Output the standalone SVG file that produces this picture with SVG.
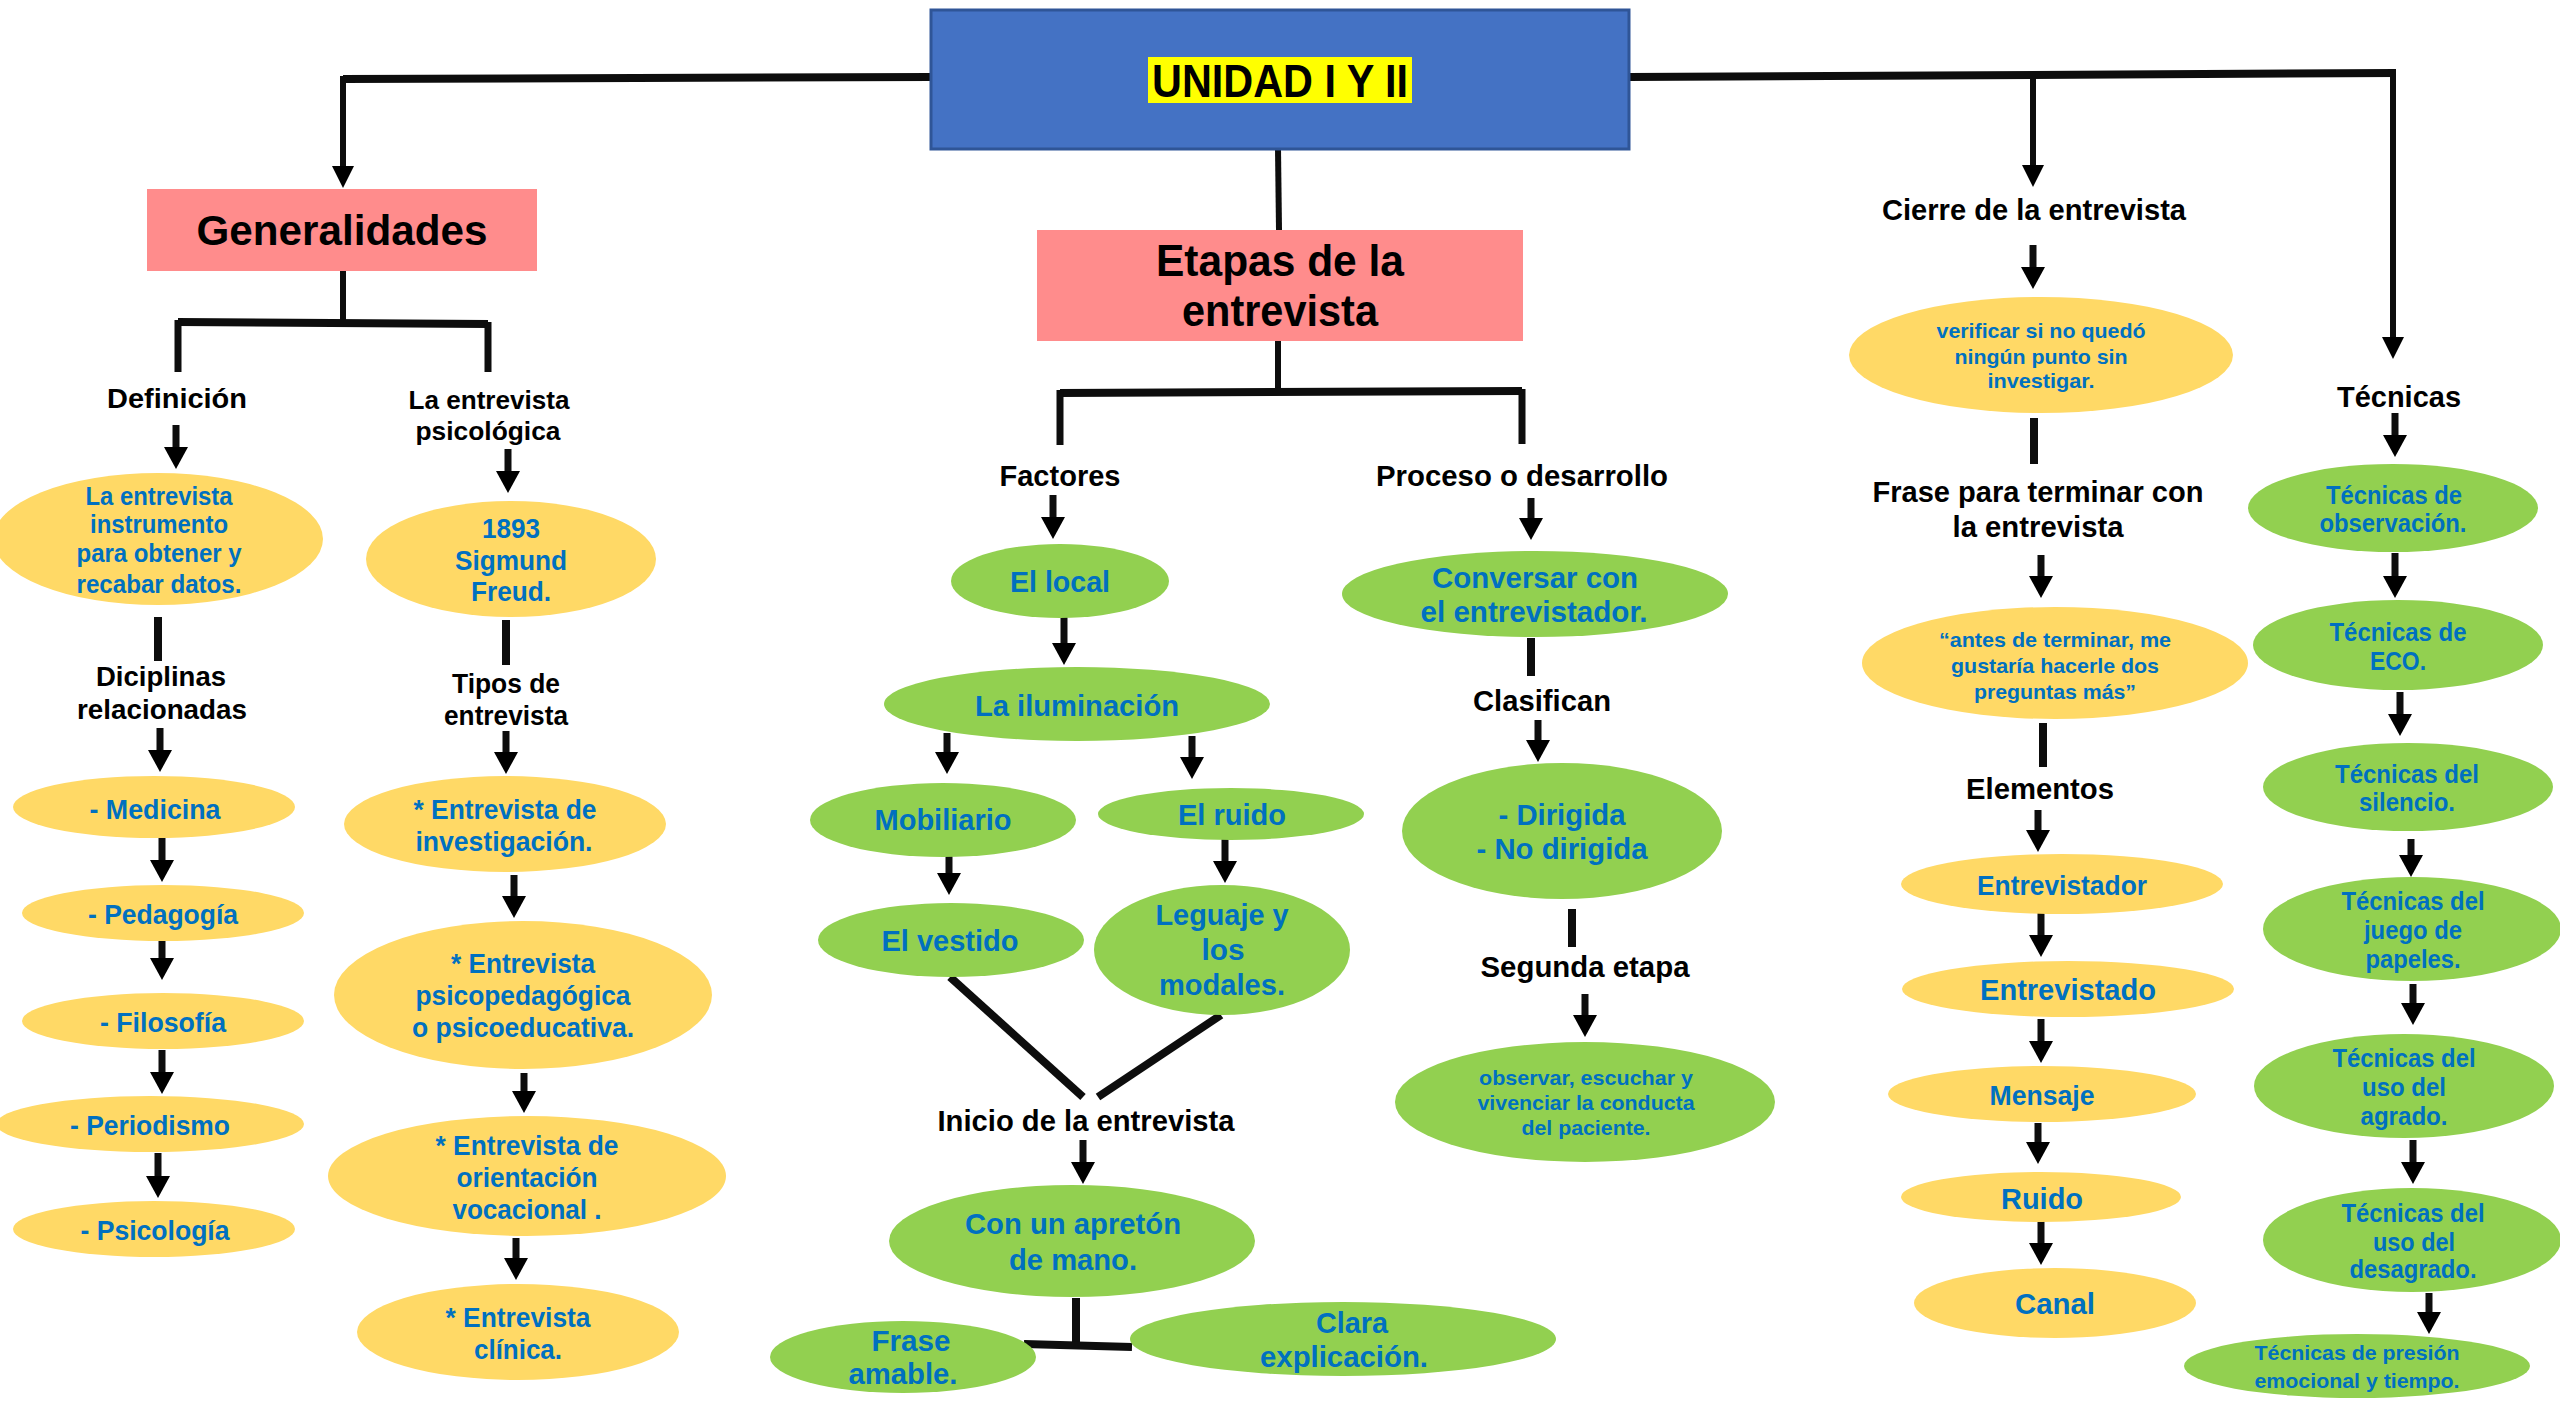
<svg xmlns="http://www.w3.org/2000/svg" width="2560" height="1403" viewBox="0 0 2560 1403">
<style>
text{font-family:"Liberation Sans",Arial,sans-serif;font-weight:700;text-anchor:middle}
.bt{fill:#0070C0}
.kt{fill:#000}
.y{fill:#FFD966}
.g{fill:#92D050}
.pk{fill:#FF8C8C}
.cn{stroke:#0d0d0d;stroke-width:7;fill:none}
.th{stroke-width:8}
.tn{stroke-width:6}
.ar{marker-end:url(#ah)}
.al{marker-end:url(#ahl)}
</style>
<defs>
<marker id="ah" markerUnits="userSpaceOnUse" viewBox="0 0 22 24" markerWidth="22" markerHeight="24" refX="6" refY="12" orient="auto"><path d="M0,0 L22,12 L0,24 z" fill="#000"/></marker>
<marker id="ahl" markerUnits="userSpaceOnUse" viewBox="0 0 22 22" markerWidth="22" markerHeight="22" refX="0" refY="11" orient="auto"><path d="M0,0 L22,11 L0,22 z" fill="#000"/></marker>
</defs>
<rect width="2560" height="1403" fill="#fff"/>

<g id="connectors">
<path class="cn th" d="M931,77 L343,79"/>
<path class="cn tn al" d="M343,76 L343,166"/>
<path class="cn th" d="M1629,77 L2396,73"/>
<path class="cn tn al" d="M2393,74 L2393,337"/>
<path class="cn tn al" d="M2033,76 L2033,165"/>
<path class="cn tn" d="M1278,149 L1279,230"/>
<path class="cn tn" d="M343,271 L343,322"/>
<path class="cn th" d="M178,322 L488,324"/>
<path class="cn" d="M178,320 L178,372"/>
<path class="cn" d="M488,322 L488,372"/>
<path class="cn ar" d="M176,425 L176,453"/>
<path class="cn ar" d="M508,449 L508,477"/>
<path class="cn th" d="M158,617 L158,661"/>
<path class="cn ar" d="M160,728 L160,756"/>
<path class="cn ar" d="M162,838 L162,866"/>
<path class="cn ar" d="M162,934 L162,964"/>
<path class="cn ar" d="M162,1050 L162,1078"/>
<path class="cn ar" d="M158,1153 L158,1182"/>
<path class="cn th" d="M506,620 L506,665"/>
<path class="cn ar" d="M506,731 L506,758"/>
<path class="cn ar" d="M514,875 L514,902"/>
<path class="cn ar" d="M524,1073 L524,1097"/>
<path class="cn ar" d="M516,1238 L516,1264"/>
<path class="cn tn" d="M1278,341 L1278,392"/>
<path class="cn th" d="M1060,393 L1522,391"/>
<path class="cn" d="M1060,390 L1060,445"/>
<path class="cn" d="M1522,389 L1522,444"/>
<path class="cn ar" d="M1053,495 L1053,523"/>
<path class="cn ar" d="M1064,617 L1064,649"/>
<path class="cn ar" d="M947,733 L947,758"/>
<path class="cn ar" d="M1192,736 L1192,763"/>
<path class="cn ar" d="M949,849 L949,879"/>
<path class="cn ar" d="M1225,838 L1225,867"/>
<path class="cn th" d="M950,977 L1083,1097"/>
<path class="cn th" d="M1221,1015 L1098,1097"/>
<path class="cn ar" d="M1083,1140 L1083,1168"/>
<path class="cn th" d="M1076,1298 L1076,1347"/>
<path class="cn th" d="M1024,1344 L1132,1347"/>
<path class="cn ar" d="M1531,498 L1531,524"/>
<path class="cn th" d="M1531,638 L1531,676"/>
<path class="cn ar" d="M1538,720 L1538,746"/>
<path class="cn th" d="M1572,909 L1572,947"/>
<path class="cn ar" d="M1585,994 L1585,1021"/>
<path class="cn ar" d="M2033,245 L2033,273"/>
<path class="cn th" d="M2034,418 L2034,464"/>
<path class="cn ar" d="M2041,555 L2041,582"/>
<path class="cn th" d="M2043,723 L2043,767"/>
<path class="cn ar" d="M2038,810 L2038,836"/>
<path class="cn ar" d="M2041,911 L2041,941"/>
<path class="cn ar" d="M2041,1019 L2041,1047"/>
<path class="cn ar" d="M2038,1123 L2038,1148"/>
<path class="cn ar" d="M2041,1221 L2041,1249"/>
<path class="cn ar" d="M2395,413 L2395,441"/>
<path class="cn ar" d="M2395,553 L2395,582"/>
<path class="cn ar" d="M2400,692 L2400,720"/>
<path class="cn ar" d="M2411,839 L2411,861"/>
<path class="cn ar" d="M2413,984 L2413,1009"/>
<path class="cn ar" d="M2413,1140 L2413,1168"/>
<path class="cn ar" d="M2429,1293 L2429,1318"/>
</g>

<g id="n-unidad">
<rect x="931" y="10" width="698" height="139" fill="#4472C4" stroke="#2F5597" stroke-width="3"/>
<rect x="1148" y="57" width="264" height="46" fill="#FFFF00"/>
<text class="kt" x="1280" y="97" font-size="46" textLength="256" lengthAdjust="spacingAndGlyphs">UNIDAD I Y II</text>
</g>

<g id="n-generalidades">
<rect class="pk" x="147" y="189" width="390" height="82"/>
<text class="kt" x="342" y="245" font-size="42" textLength="291" lengthAdjust="spacingAndGlyphs">Generalidades</text>
</g>

<g id="n-etapas">
<rect class="pk" x="1037" y="230" width="486" height="111"/>
<text class="kt" x="1280" y="276" font-size="44" textLength="248" lengthAdjust="spacingAndGlyphs">Etapas de la</text>
<text class="kt" x="1280" y="326" font-size="44" textLength="196" lengthAdjust="spacingAndGlyphs">entrevista</text>
</g>

<g id="n-definicion"><text class="kt" x="177" y="408" font-size="28" textLength="140" lengthAdjust="spacingAndGlyphs">Definición</text></g>
<g id="n-def-texto">
<ellipse class="y" cx="158" cy="539" rx="165" ry="66"/>
<text class="bt" x="159" y="505" font-size="25" textLength="147" lengthAdjust="spacingAndGlyphs">La entrevista</text>
<text class="bt" x="159" y="533" font-size="25" textLength="138" lengthAdjust="spacingAndGlyphs">instrumento</text>
<text class="bt" x="159" y="562" font-size="25" textLength="165" lengthAdjust="spacingAndGlyphs">para obtener y</text>
<text class="bt" x="159" y="593" font-size="25" textLength="165" lengthAdjust="spacingAndGlyphs">recabar datos.</text>
</g>
<g id="n-diciplinas">
<text class="kt" x="161" y="686" font-size="28" textLength="130" lengthAdjust="spacingAndGlyphs">Diciplinas</text>
<text class="kt" x="162" y="719" font-size="28" textLength="170" lengthAdjust="spacingAndGlyphs">relacionadas</text>
</g>
<g id="n-medicina"><ellipse class="y" cx="154" cy="807" rx="141" ry="31"/><text class="bt" x="155" y="819" font-size="28" textLength="131" lengthAdjust="spacingAndGlyphs">- Medicina</text></g>
<g id="n-pedagogia"><ellipse class="y" cx="163" cy="913" rx="141" ry="28"/><text class="bt" x="163" y="924" font-size="28" textLength="150" lengthAdjust="spacingAndGlyphs">- Pedagogía</text></g>
<g id="n-filosofia"><ellipse class="y" cx="163" cy="1021" rx="141" ry="28"/><text class="bt" x="163" y="1032" font-size="28" textLength="126" lengthAdjust="spacingAndGlyphs">- Filosofía</text></g>
<g id="n-periodismo"><ellipse class="y" cx="150" cy="1124" rx="154" ry="28"/><text class="bt" x="150" y="1135" font-size="28" textLength="160" lengthAdjust="spacingAndGlyphs">- Periodismo</text></g>
<g id="n-psicologia"><ellipse class="y" cx="154" cy="1229" rx="141" ry="28"/><text class="bt" x="155" y="1240" font-size="28" textLength="149" lengthAdjust="spacingAndGlyphs">- Psicología</text></g>

<g id="n-psicologica">
<text class="kt" x="489" y="409" font-size="26" textLength="161" lengthAdjust="spacingAndGlyphs">La entrevista</text>
<text class="kt" x="488" y="440" font-size="26" textLength="145" lengthAdjust="spacingAndGlyphs">psicológica</text>
</g>
<g id="n-freud">
<ellipse class="y" cx="511" cy="559" rx="145" ry="58"/>
<text class="bt" x="511" y="538" font-size="28" textLength="58" lengthAdjust="spacingAndGlyphs">1893</text>
<text class="bt" x="511" y="570" font-size="28" textLength="112" lengthAdjust="spacingAndGlyphs">Sigmund</text>
<text class="bt" x="511" y="601" font-size="28" textLength="80" lengthAdjust="spacingAndGlyphs">Freud.</text>
</g>
<g id="n-tipos">
<text class="kt" x="506" y="693" font-size="27" textLength="108" lengthAdjust="spacingAndGlyphs">Tipos de</text>
<text class="kt" x="506" y="725" font-size="27" textLength="124" lengthAdjust="spacingAndGlyphs">entrevista</text>
</g>
<g id="n-investigacion">
<ellipse class="y" cx="505" cy="824" rx="161" ry="48"/>
<text class="bt" x="505" y="819" font-size="27" textLength="183" lengthAdjust="spacingAndGlyphs">* Entrevista de</text>
<text class="bt" x="504" y="851" font-size="27" textLength="177" lengthAdjust="spacingAndGlyphs">investigación.</text>
</g>
<g id="n-psicopedagogica">
<ellipse class="y" cx="523" cy="995" rx="189" ry="74"/>
<text class="bt" x="523" y="973" font-size="27" textLength="144" lengthAdjust="spacingAndGlyphs">* Entrevista</text>
<text class="bt" x="523" y="1005" font-size="27" textLength="215" lengthAdjust="spacingAndGlyphs">psicopedagógica</text>
<text class="bt" x="523" y="1037" font-size="27" textLength="222" lengthAdjust="spacingAndGlyphs">o psicoeducativa.</text>
</g>
<g id="n-orientacion">
<ellipse class="y" cx="527" cy="1176" rx="199" ry="60"/>
<text class="bt" x="527" y="1155" font-size="27" textLength="183" lengthAdjust="spacingAndGlyphs">* Entrevista de</text>
<text class="bt" x="527" y="1187" font-size="27" textLength="141" lengthAdjust="spacingAndGlyphs">orientación</text>
<text class="bt" x="527" y="1219" font-size="27" textLength="149" lengthAdjust="spacingAndGlyphs">vocacional .</text>
</g>
<g id="n-clinica">
<ellipse class="y" cx="518" cy="1332" rx="161" ry="48"/>
<text class="bt" x="518" y="1327" font-size="27" textLength="145" lengthAdjust="spacingAndGlyphs">* Entrevista</text>
<text class="bt" x="518" y="1359" font-size="27" textLength="88" lengthAdjust="spacingAndGlyphs">clínica.</text>
</g>

<g id="n-factores"><text class="kt" x="1060" y="486" font-size="29" textLength="121" lengthAdjust="spacingAndGlyphs">Factores</text></g>
<g id="n-local"><ellipse class="g" cx="1060" cy="581" rx="109" ry="37"/><text class="bt" x="1060" y="592" font-size="30" textLength="100" lengthAdjust="spacingAndGlyphs">El local</text></g>
<g id="n-iluminacion"><ellipse class="g" cx="1077" cy="704" rx="193" ry="37"/><text class="bt" x="1077" y="716" font-size="30" textLength="204" lengthAdjust="spacingAndGlyphs">La iluminación</text></g>
<g id="n-mobiliario"><ellipse class="g" cx="943" cy="820" rx="133" ry="37"/><text class="bt" x="943" y="830" font-size="30" textLength="137" lengthAdjust="spacingAndGlyphs">Mobiliario</text></g>
<g id="n-elruido"><ellipse class="g" cx="1231" cy="814" rx="133" ry="26"/><text class="bt" x="1232" y="825" font-size="30" textLength="108" lengthAdjust="spacingAndGlyphs">El ruido</text></g>
<g id="n-vestido"><ellipse class="g" cx="951" cy="940" rx="133" ry="37"/><text class="bt" x="950" y="951" font-size="30" textLength="137" lengthAdjust="spacingAndGlyphs">El vestido</text></g>
<g id="n-leguaje">
<ellipse class="g" cx="1222" cy="950" rx="128" ry="65"/>
<text class="bt" x="1222" y="925" font-size="30" textLength="133" lengthAdjust="spacingAndGlyphs">Leguaje y</text>
<text class="bt" x="1223" y="960" font-size="30" textLength="43" lengthAdjust="spacingAndGlyphs">los</text>
<text class="bt" x="1222" y="995" font-size="30" textLength="126" lengthAdjust="spacingAndGlyphs">modales.</text>
</g>
<g id="n-inicio"><text class="kt" x="1086" y="1131" font-size="29" textLength="297" lengthAdjust="spacingAndGlyphs">Inicio de la entrevista</text></g>
<g id="n-apreton">
<ellipse class="g" cx="1072" cy="1241" rx="183" ry="56"/>
<text class="bt" x="1073" y="1234" font-size="30" textLength="216" lengthAdjust="spacingAndGlyphs">Con un apretón</text>
<text class="bt" x="1073" y="1270" font-size="30" textLength="128" lengthAdjust="spacingAndGlyphs">de mano.</text>
</g>
<g id="n-frase-amable">
<ellipse class="g" cx="903" cy="1357" rx="133" ry="36"/>
<text class="bt" x="911" y="1351" font-size="30" textLength="79" lengthAdjust="spacingAndGlyphs">Frase</text>
<text class="bt" x="903" y="1384" font-size="30" textLength="109" lengthAdjust="spacingAndGlyphs">amable.</text>
</g>
<g id="n-clara">
<ellipse class="g" cx="1343" cy="1339" rx="213" ry="37"/>
<text class="bt" x="1352" y="1333" font-size="30" textLength="72" lengthAdjust="spacingAndGlyphs">Clara</text>
<text class="bt" x="1344" y="1367" font-size="30" textLength="168" lengthAdjust="spacingAndGlyphs">explicación.</text>
</g>

<g id="n-proceso"><text class="kt" x="1522" y="486" font-size="29" textLength="292" lengthAdjust="spacingAndGlyphs">Proceso o desarrollo</text></g>
<g id="n-conversar">
<ellipse class="g" cx="1535" cy="594" rx="193" ry="43"/>
<text class="bt" x="1535" y="588" font-size="30" textLength="206" lengthAdjust="spacingAndGlyphs">Conversar con</text>
<text class="bt" x="1534" y="622" font-size="30" textLength="227" lengthAdjust="spacingAndGlyphs">el entrevistador.</text>
</g>
<g id="n-clasifican"><text class="kt" x="1542" y="711" font-size="29" textLength="138" lengthAdjust="spacingAndGlyphs">Clasifican</text></g>
<g id="n-dirigida">
<ellipse class="g" cx="1562" cy="831" rx="160" ry="68"/>
<text class="bt" x="1562" y="825" font-size="30" textLength="127" lengthAdjust="spacingAndGlyphs">- Dirigida</text>
<text class="bt" x="1562" y="859" font-size="30" textLength="171" lengthAdjust="spacingAndGlyphs">- No dirigida</text>
</g>
<g id="n-segunda"><text class="kt" x="1585" y="977" font-size="29" textLength="209" lengthAdjust="spacingAndGlyphs">Segunda etapa</text></g>
<g id="n-observar">
<ellipse class="g" cx="1585" cy="1102" rx="190" ry="60"/>
<text class="bt" x="1586" y="1085" font-size="21" textLength="214" lengthAdjust="spacingAndGlyphs">observar, escuchar y</text>
<text class="bt" x="1586" y="1110" font-size="21" textLength="217" lengthAdjust="spacingAndGlyphs">vivenciar la conducta</text>
<text class="bt" x="1586" y="1135" font-size="21" textLength="129" lengthAdjust="spacingAndGlyphs">del paciente.</text>
</g>

<g id="n-cierre"><text class="kt" x="2034" y="220" font-size="30" textLength="304" lengthAdjust="spacingAndGlyphs">Cierre de la entrevista</text></g>
<g id="n-verificar">
<ellipse class="y" cx="2041" cy="355" rx="192" ry="58"/>
<text class="bt" x="2041" y="338" font-size="21" textLength="209" lengthAdjust="spacingAndGlyphs">verificar si no quedó</text>
<text class="bt" x="2041" y="364" font-size="21" textLength="173" lengthAdjust="spacingAndGlyphs">ningún punto sin</text>
<text class="bt" x="2041" y="388" font-size="21" textLength="107" lengthAdjust="spacingAndGlyphs">investigar.</text>
</g>
<g id="n-frase-terminar">
<text class="kt" x="2038" y="502" font-size="30" textLength="331" lengthAdjust="spacingAndGlyphs">Frase para terminar con</text>
<text class="kt" x="2038" y="537" font-size="30" textLength="171" lengthAdjust="spacingAndGlyphs">la entrevista</text>
</g>
<g id="n-antes">
<ellipse class="y" cx="2055" cy="663" rx="193" ry="56"/>
<text class="bt" x="2055" y="647" font-size="21" textLength="232" lengthAdjust="spacingAndGlyphs">“antes de terminar, me</text>
<text class="bt" x="2055" y="673" font-size="21" textLength="208" lengthAdjust="spacingAndGlyphs">gustaría hacerle dos</text>
<text class="bt" x="2055" y="699" font-size="21" textLength="162" lengthAdjust="spacingAndGlyphs">preguntas más”</text>
</g>
<g id="n-elementos"><text class="kt" x="2040" y="799" font-size="29" textLength="148" lengthAdjust="spacingAndGlyphs">Elementos</text></g>
<g id="n-entrevistador"><ellipse class="y" cx="2062" cy="884" rx="161" ry="30"/><text class="bt" x="2062" y="895" font-size="28" textLength="170" lengthAdjust="spacingAndGlyphs">Entrevistador</text></g>
<g id="n-entrevistado"><ellipse class="y" cx="2068" cy="989" rx="166" ry="28"/><text class="bt" x="2068" y="1000" font-size="29" textLength="176" lengthAdjust="spacingAndGlyphs">Entrevistado</text></g>
<g id="n-mensaje"><ellipse class="y" cx="2042" cy="1094" rx="154" ry="28"/><text class="bt" x="2042" y="1105" font-size="28" textLength="105" lengthAdjust="spacingAndGlyphs">Mensaje</text></g>
<g id="n-ruido"><ellipse class="y" cx="2041" cy="1197" rx="140" ry="25"/><text class="bt" x="2042" y="1209" font-size="29" textLength="82" lengthAdjust="spacingAndGlyphs">Ruido</text></g>
<g id="n-canal"><ellipse class="y" cx="2055" cy="1303" rx="141" ry="35"/><text class="bt" x="2055" y="1314" font-size="29" textLength="80" lengthAdjust="spacingAndGlyphs">Canal</text></g>

<g id="n-tecnicas"><text class="kt" x="2399" y="407" font-size="29" textLength="124" lengthAdjust="spacingAndGlyphs">Técnicas</text></g>
<g id="n-tec-observacion">
<ellipse class="g" cx="2393" cy="508" rx="145" ry="44"/>
<text class="bt" x="2394" y="504" font-size="25" textLength="136" lengthAdjust="spacingAndGlyphs">Técnicas de</text>
<text class="bt" x="2393" y="532" font-size="25" textLength="147" lengthAdjust="spacingAndGlyphs">observación.</text>
</g>
<g id="n-tec-eco">
<ellipse class="g" cx="2398" cy="645" rx="145" ry="45"/>
<text class="bt" x="2398" y="641" font-size="25" textLength="137" lengthAdjust="spacingAndGlyphs">Técnicas de</text>
<text class="bt" x="2398" y="670" font-size="25" textLength="56" lengthAdjust="spacingAndGlyphs">ECO.</text>
</g>
<g id="n-tec-silencio">
<ellipse class="g" cx="2408" cy="787" rx="145" ry="44"/>
<text class="bt" x="2407" y="783" font-size="25" textLength="144" lengthAdjust="spacingAndGlyphs">Técnicas del</text>
<text class="bt" x="2407" y="811" font-size="25" textLength="96" lengthAdjust="spacingAndGlyphs">silencio.</text>
</g>
<g id="n-tec-juego">
<ellipse class="g" cx="2412" cy="929" rx="149" ry="52"/>
<text class="bt" x="2413" y="910" font-size="25" textLength="143" lengthAdjust="spacingAndGlyphs">Técnicas del</text>
<text class="bt" x="2413" y="939" font-size="25" textLength="98" lengthAdjust="spacingAndGlyphs">juego de</text>
<text class="bt" x="2413" y="968" font-size="25" textLength="95" lengthAdjust="spacingAndGlyphs">papeles.</text>
</g>
<g id="n-tec-agrado">
<ellipse class="g" cx="2404" cy="1086" rx="150" ry="52"/>
<text class="bt" x="2404" y="1067" font-size="25" textLength="143" lengthAdjust="spacingAndGlyphs">Técnicas del</text>
<text class="bt" x="2404" y="1096" font-size="25" textLength="84" lengthAdjust="spacingAndGlyphs">uso del</text>
<text class="bt" x="2404" y="1125" font-size="25" textLength="87" lengthAdjust="spacingAndGlyphs">agrado.</text>
</g>
<g id="n-tec-desagrado">
<ellipse class="g" cx="2412" cy="1240" rx="149" ry="52"/>
<text class="bt" x="2413" y="1222" font-size="25" textLength="143" lengthAdjust="spacingAndGlyphs">Técnicas del</text>
<text class="bt" x="2414" y="1251" font-size="25" textLength="82" lengthAdjust="spacingAndGlyphs">uso del</text>
<text class="bt" x="2413" y="1278" font-size="25" textLength="127" lengthAdjust="spacingAndGlyphs">desagrado.</text>
</g>
<g id="n-tec-presion">
<ellipse class="g" cx="2357" cy="1366" rx="173" ry="32"/>
<text class="bt" x="2357" y="1360" font-size="21" textLength="205" lengthAdjust="spacingAndGlyphs">Técnicas de presión</text>
<text class="bt" x="2357" y="1388" font-size="21" textLength="205" lengthAdjust="spacingAndGlyphs">emocional y tiempo.</text>
</g>
</svg>
